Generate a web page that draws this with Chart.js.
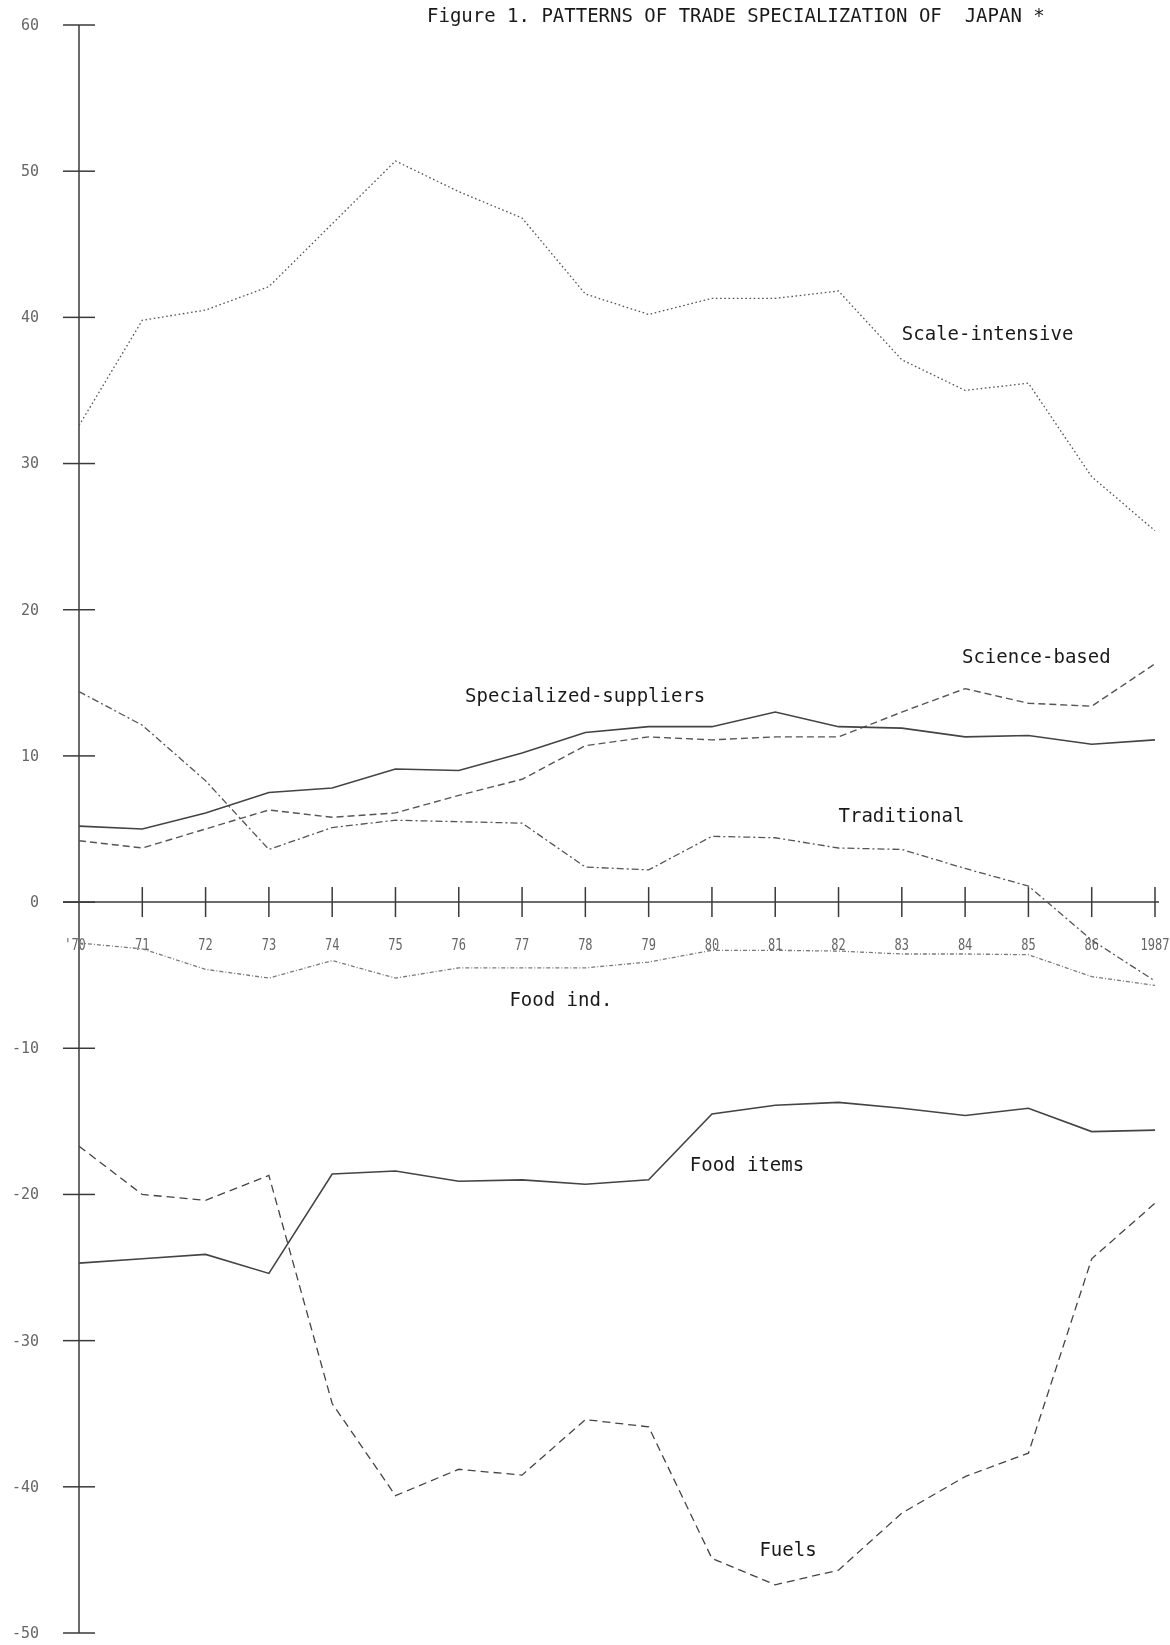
<!DOCTYPE html>
<html>
<head>
<meta charset="utf-8">
<title>Patterns of trade specialization of Japan</title>
<style>
  html, body { margin: 0; padding: 0; background: #ffffff; }
  #wrap { width: 1170px; height: 1645px; position: relative; }
</style>
<script src="https://cdn.jsdelivr.net/npm/chart.js@4.4.1/dist/chart.umd.min.js"></script>
</head>
<body>
<div id="wrap"><canvas id="chart" width="1170" height="1645"></canvas></div>
<script>
// Years on the horizontal axis
const years = ["'70", "71", "72", "73", "74", "75", "76", "77", "78", "79",
               "80", "81", "82", "83", "84", "85", "86", "1987"];

// Trade specialization index by sector group
const scaleIntensive       = [32.6, 39.8, 40.5, 42.1, 46.4, 50.7, 48.6, 46.8, 41.6, 40.2, 41.3, 41.3, 41.8, 37.1, 35.0, 35.5, 29.1, 25.4];
const specializedSuppliers = [5.2, 5.0, 6.1, 7.5, 7.8, 9.1, 9.0, 10.2, 11.6, 12.0, 12.0, 13.0, 12.0, 11.9, 11.3, 11.4, 10.8, 11.1];
const scienceBased         = [4.2, 3.7, 5.0, 6.3, 5.8, 6.1, 7.3, 8.4, 10.7, 11.3, 11.1, 11.3, 11.3, 13.0, 14.6, 13.6, 13.4, 16.3];
const traditional          = [14.4, 12.1, 8.3, 3.6, 5.1, 5.6, 5.5, 5.4, 2.4, 2.2, 4.5, 4.4, 3.7, 3.6, 2.3, 1.1, -2.6, -5.4];
const foodInd              = [-2.8, -3.2, -4.6, -5.2, -4.0, -5.2, -4.5, -4.5, -4.5, -4.1, -3.3, -3.3, -3.35, -3.55, -3.55, -3.6, -5.1, -5.7];
const foodItems            = [-24.7, -24.4, -24.1, -25.4, -18.6, -18.4, -19.1, -19.0, -19.3, -19.0, -14.5, -13.9, -13.7, -14.1, -14.6, -14.1, -15.7, -15.6];
const fuels                = [-16.7, -20.0, -20.4, -18.7, -34.3, -40.6, -38.8, -39.2, -35.4, -35.9, -44.9, -46.7, -45.7, -41.8, -39.3, -37.7, -24.4, -20.6];

// Vertical axis tick values
const yTicks = [60, 50, 40, 30, 20, 10, 0, -10, -20, -30, -40, -50];

const titleText = "Figure 1. PATTERNS OF TRADE SPECIALIZATION OF  JAPAN *";

// Series names written next to the curves, anchored in data units (year index, index value)
const seriesLabels = [
  { text: "Scale-intensive",        at: [13.0, 38.8] },
  { text: "Specialized-suppliers",  at: [6.1, 14.0] },
  { text: "Science-based",          at: [13.95, 16.7] },
  { text: "Traditional",            at: [12.0, 5.8] },
  { text: "Food ind.",              at: [6.8, -6.8] },
  { text: "Food items",             at: [9.65, -18.05] },
  { text: "Fuels",                  at: [10.75, -44.4] }
];

const MONO = '"DejaVu Sans Mono", "Liberation Mono", monospace';

function series(label, data, color, width, dash) {
  return {
    label, data,
    borderColor: color,
    borderWidth: width,
    borderDash: dash,
    pointRadius: 0,
    fill: false,
    tension: 0
  };
}

// Axes with ticks crossing the lines, tick labels, title and curve names
const frame = {
  id: 'frame',
  beforeDatasetsDraw(chart) {
    const { ctx, scales: { x, y } } = chart;
    const x0 = x.getPixelForValue(0);
    const xEnd = x.getPixelForValue(years.length - 1);
    const yZero = y.getPixelForValue(0);
    const yTop = y.getPixelForValue(yTicks[0]);
    const yBot = y.getPixelForValue(yTicks[yTicks.length - 1]);

    ctx.save();
    ctx.strokeStyle = '#3a3a3a';
    ctx.lineWidth = 1.5;
    ctx.setLineDash([]);

    // vertical axis
    ctx.beginPath();
    ctx.moveTo(x0, yTop);
    ctx.lineTo(x0, yBot);
    ctx.stroke();

    // horizontal axis through zero
    ctx.beginPath();
    ctx.moveTo(x0 - 16, yZero);
    ctx.lineTo(xEnd + 4, yZero);
    ctx.stroke();

    // y ticks and labels
    ctx.fillStyle = '#666';
    ctx.font = '15px ' + MONO;
    ctx.textAlign = 'right';
    ctx.textBaseline = 'middle';
    yTicks.forEach(v => {
      const py = y.getPixelForValue(v);
      ctx.beginPath();
      ctx.moveTo(x0 - 16, py);
      ctx.lineTo(x0 + 16, py);
      ctx.stroke();
      ctx.fillText(String(v), x0 - 40, py + 1);
    });

    // x ticks and labels
    ctx.textAlign = 'center';
    years.forEach((lab, i) => {
      const px = x.getPixelForValue(i);
      if (i > 0) {
        ctx.beginPath();
        ctx.moveTo(px, yZero - 15);
        ctx.lineTo(px, yZero + 15);
        ctx.stroke();
      }
      ctx.save();
      ctx.translate(px - (i === 0 ? 4 : 0), yZero + 44);
      ctx.scale(0.8, 1.1);
      ctx.fillText(lab, 0, 0);
      ctx.restore();
    });
    ctx.restore();
  },
  afterDatasetsDraw(chart) {
    const { ctx, scales: { x, y } } = chart;
    ctx.save();
    ctx.fillStyle = '#1a1a1a';
    ctx.font = '19px ' + MONO;
    ctx.textBaseline = 'middle';
    ctx.textAlign = 'left';
    ctx.fillText(titleText, 427, 17);
    seriesLabels.forEach(l => {
      ctx.fillText(l.text, x.getPixelForValue(l.at[0]), y.getPixelForValue(l.at[1]));
    });
    ctx.restore();
  }
};

new Chart(document.getElementById('chart'), {
  type: 'line',
  data: {
    labels: years,
    datasets: [
      series('Scale-intensive', scaleIntensive, '#555', 1.3, [1.6, 2.6]),
      series('Specialized-suppliers', specializedSuppliers, '#444', 1.6, []),
      series('Science-based', scienceBased, '#555', 1.4, [7, 4]),
      series('Traditional', traditional, '#555', 1.3, [7, 3, 2, 3]),
      series('Food ind.', foodInd, '#7a7a7a', 1.3, [4, 2, 1, 2]),
      series('Food items', foodItems, '#444', 1.6, []),
      series('Fuels', fuels, '#444', 1.3, [8, 5])
    ]
  },
  options: {
    responsive: false,
    animation: false,
    layout: { padding: { left: 79, right: 15, top: 25, bottom: 12 } },
    plugins: { legend: { display: false }, tooltip: { enabled: false }, title: { display: false } },
    scales: {
      x: { type: 'category', display: false, offset: false },
      y: { type: 'linear', display: false, min: -50, max: 60 }
    }
  },
  plugins: [frame]
});
</script>
</body>
</html>
